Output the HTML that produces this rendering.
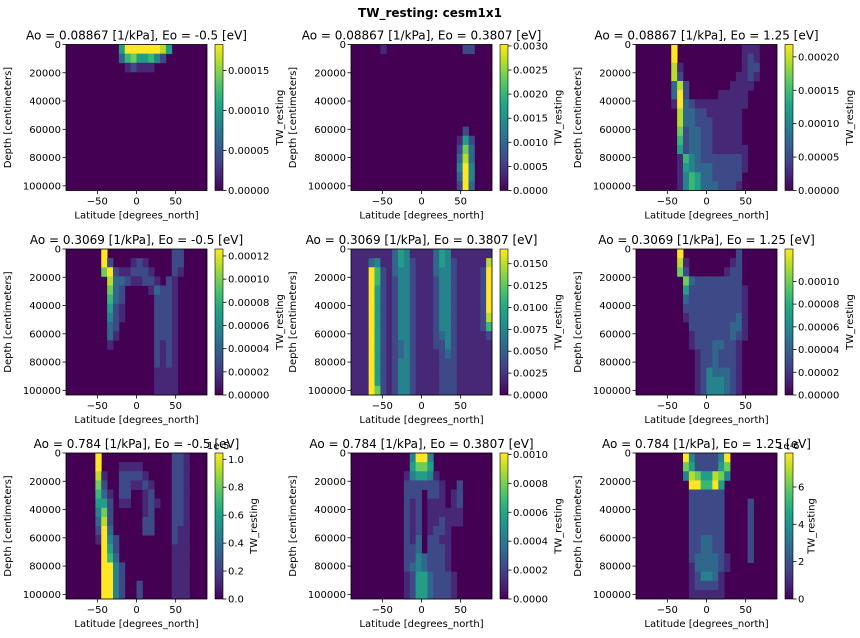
<!DOCTYPE html>
<html><head><meta charset="utf-8">
<style>
html,body{margin:0;padding:0;background:#fff;}
svg{display:block;font-family:"DejaVu Sans","Liberation Sans",sans-serif;}
</style></head>
<body>
<svg id="fig" width="860" height="638" viewBox="0 0 860 638">
<defs>
<linearGradient id="vir" x1="0" y1="1" x2="0" y2="0">
<stop offset="0" stop-color="#440154"/><stop offset="0.1" stop-color="#482475"/><stop offset="0.2" stop-color="#414487"/><stop offset="0.3" stop-color="#355f8d"/><stop offset="0.4" stop-color="#2a788e"/><stop offset="0.5" stop-color="#21918c"/><stop offset="0.6" stop-color="#22a884"/><stop offset="0.7" stop-color="#44bf70"/><stop offset="0.8" stop-color="#7ad151"/><stop offset="0.9" stop-color="#bddf26"/><stop offset="1" stop-color="#fde725"/>
</linearGradient>
</defs>
<text x="430" y="17" text-anchor="middle" font-size="12" font-weight="bold">TW_resting: cesm1x1</text>
</svg>
<script>
const latMin = -90, latMax = 90, depthMax = 103300;
const latBins = 24, depthBins = 16;
const xTicks = [-50, 0, 50];
const yTicks = [0, 20000, 40000, 60000, 80000, 100000];
const titles = [
 "Ao = 0.08867 [1/kPa], Eo = -0.5 [eV]","Ao = 0.08867 [1/kPa], Eo = 0.3807 [eV]","Ao = 0.08867 [1/kPa], Eo = 1.25 [eV]",
 "Ao = 0.3069 [1/kPa], Eo = -0.5 [eV]","Ao = 0.3069 [1/kPa], Eo = 0.3807 [eV]","Ao = 0.3069 [1/kPa], Eo = 1.25 [eV]",
 "Ao = 0.784 [1/kPa], Eo = -0.5 [eV]","Ao = 0.784 [1/kPa], Eo = 0.3807 [eV]","Ao = 0.784 [1/kPa], Eo = 1.25 [eV]"];
const cbMax = [0.0001825,0.00303,0.0002185,0.000126,0.01668,0.0001285,1.045,0.00101,7.82];
const cbTicks = [
 [0,0.00005,0.0001,0.00015],[0,0.0005,0.001,0.0015,0.002,0.0025,0.003],[0,0.00005,0.0001,0.00015,0.0002],
 [0,0.00002,0.00004,0.00006,0.00008,0.0001,0.00012],[0,0.0025,0.005,0.0075,0.01,0.0125,0.015],[0,0.00002,0.00004,0.00006,0.00008,0.0001],
 [0,0.2,0.4,0.6,0.8,1.0],[0,0.0002,0.0004,0.0006,0.0008,0.001],[0,2,4,6]];
const cbTickLabels = [
 ["0.00000","0.00005","0.00010","0.00015"],["0.0000","0.0005","0.0010","0.0015","0.0020","0.0025","0.0030"],["0.00000","0.00005","0.00010","0.00015","0.00020"],
 ["0.00000","0.00002","0.00004","0.00006","0.00008","0.00010","0.00012"],["0.0000","0.0025","0.0050","0.0075","0.0100","0.0125","0.0150"],["0.00000","0.00002","0.00004","0.00006","0.00008","0.00010"],
 ["0.0","0.2","0.4","0.6","0.8","1.0"],["0.0000","0.0002","0.0004","0.0006","0.0008","0.0010"],["0","2","4","6"]];
const cbOffset = ["","","","","","","1e-5","","1e-6"];
const field1 = ["000000000599999985000000","000000000367556420000000","000000000012111000000000"];
const field2 = ["000001000000000000022000","","","","","","","","","000000000000000000020000","000000000000000000152000","000000000000000000273000","000000000000000000383000","000000000000000000494000","000000000000000000394000","000000000000000000293000"];
const field3 = ["000000900000000000111000","000000900000000000121000","000000810000000000122000","000000820000000001121000","000000382000000011110000","000000392000001111100000","000000193211111111100000","000000083322111111000000","000000083322211111000000","000000072332211111000000","000000062332211111000000","000000052332211111100000","000000016432222222100000","000000015433322222100000","000000014653322222000000","000000014653332221000000"];
const field4 = ["000000900000000000220000","000000920001210000220000","000000792112221000210000","000000083321122102100000","000000073200001322100000","000000063200000222100000","000000052100000222100000","000000042100000222100000","000000032000000222100000","000000031000000222100000","000000010000000212100000","000000000000000212100000","000000000000000212100000","000000000000000111100000","000000000000000111100000","000000000000000111100000"];
const field5 = ["111111135411113541111111","111341135421113542111118","111962134421113442111129","111962124421112442111129","111952124421112442111129","111952124421112442111129","111952124421112442111129","111952124421112442111128","111952124421112442111126","111952124421112342111112","111952123421112242111111","111952123421111232111111","111952124421111222111111","111952124421111222111111","111952124421111222111111","111972124421111222111111"];
const field6 = ["000000090000000002000000","000000081000000012000000","000000072000000122000000","000000007322222222000000","000000005222222222100000","000000003222222222100000","000000002222222222100000","000000001222222223100000","000000000222222233100000","000000000122222232100000","000000000122233221000000","000000000012232221000000","000000000012232221000000","000000000012433321000000","000000000012444321000000","000000000012444321000000"];
const field7 = ["000009000000000000221000","000009000111100000221000","000008100222210000221000","000007200221121000221000","000006310220012000221000","000005520110012100221000","000004720000012000221000","000003820000022000221000","000002930000022000211000","000001942000000000211000","000000952000000000111000","000000963000000000111000","000000994200000000111000","000000994200000000111000","000000994200200000111000","000000994200200000111000"];
const field8 = ["000000000049940000000000","000000000057750000000000","000000000145541000000000","000000000222222100200000","000000000222022101200000","000000000212011101200000","000000000212011111100000","000000000212011211100000","000000000212012210000000","000000000213022110000000","000000000223022210000000","000000000224322210000000","000000000234322210000000","000000000125532221000000","000000000125532221000000","000000000125532221000000"];
const field9 = ["000000009422224900000000","000000007522225700000000","000000004875587400000000","000000000996695000000000","000000000222222000000000","000000000222222000020000","000000000222222000020000","000000000222222000020000","000000000222222000020000","000000000223322000020000","000000000223322000020000","000000000233332100020000","000000000133332100000000","000000000124431000000000","000000000122221000000000","000000000111111000000000"];
const fields = [field1,field2,field3,field4,field5,field6,field7,field8,field9];

const NS = "http://www.w3.org/2000/svg";
const fig = document.getElementById('fig');
const colLeft = [66, 351, 636], rowTop = [44.5, 249, 453], PW = 141, PH = 146;
const stops = [[68,1,84],[72,36,117],[65,68,135],[53,95,141],[42,120,142],[33,145,140],[34,168,132],[68,191,112],[122,209,81],[189,223,38],[253,231,37]];
function viridis(t){t=Math.max(0,Math.min(1,t));const f=t*10,i=Math.min(9,Math.floor(f)),u=f-i;const a=stops[i],b=stops[i+1];
 return `rgb(${Math.round(a[0]+(b[0]-a[0])*u)},${Math.round(a[1]+(b[1]-a[1])*u)},${Math.round(a[2]+(b[2]-a[2])*u)})`;}
function mk(tag, attrs, parent){const e=document.createElementNS(NS,tag);for(const k in attrs)e.setAttribute(k,attrs[k]);(parent||fig).appendChild(e);return e;}
function txt(x,y,s,attrs,parent){const e=mk('text',Object.assign({x:x,y:y,'font-size':10},attrs||{}),parent);e.textContent=s;return e;}

for(let p=0;p<9;p++){
 const L=colLeft[p%3], T=rowTop[Math.floor(p/3)];
 const xs = v => L + (v-latMin)/(latMax-latMin)*PW;
 const ys = v => T + v/depthMax*PH;
 const g = mk('g',{});
 
 
 const bg = mk('rect',{x:L,y:T,width:PW,height:PH,fill:viridis(0)},g);
 
 
 const f = fields[p];
 for(let r=0;r<depthBins;r++){
  const row=(f[r]||"").padEnd(latBins,'0');
  for(let c=0;c<latBins;c++){
   const v=parseInt(row[c],10)||0; if(!v) continue;
   const la0=latMin+c*(latMax-latMin)/latBins, la1=la0+(latMax-latMin)/latBins;
   const d0=r*depthMax/depthBins, d1=d0+depthMax/depthBins;
   const cell=mk('rect',{x:xs(la0).toFixed(2),y:ys(d0).toFixed(2),width:(xs(la1)-xs(la0)+0.4).toFixed(2),height:(ys(d1)-ys(d0)+0.4).toFixed(2),fill:viridis(v/9)},g);
   
   
  }
 }
 // x ticks
 xTicks.forEach(t=>{const x=xs(t);mk('line',{x1:x,y1:T+PH,x2:x,y2:T+PH+3.5,stroke:'#000','stroke-width':0.8},g);
  const l=txt(x,T+PH+14,t<0?'\u2212'+(-t):String(t),{'text-anchor':'middle'},g);
  
  });
 yTicks.forEach(t=>{const y=ys(t);mk('line',{x1:L-3.5,y1:y,x2:L,y2:y,stroke:'#000','stroke-width':0.8},g);
  const l=txt(L-5,y+3.5,String(t),{'text-anchor':'end'},g);
  
  });
 const xl=txt(L+PW/2,T+PH+28,'Latitude [degrees_north]',{'text-anchor':'middle'},g);
 
 
 const yl=txt(0,0,'Depth [centimeters]',{'text-anchor':'middle',transform:`translate(${L-55},${T+PH/2}) rotate(-90)`},g);
 
 
 const tl=txt(L+PW/2,T-5,titles[p],{'text-anchor':'middle','font-size':12},g);
 
 
 // colorbar
 const CX=L+149, CW=8;
 const cb=mk('rect',{x:CX,y:T,width:CW,height:PH,fill:'url(#vir)',stroke:'#000','stroke-width':0.6},g);
 
 
 cbTicks[p].forEach((t,i)=>{const y=T+PH-t/cbMax[p]*PH;
  mk('line',{x1:CX+CW,y1:y,x2:CX+CW+3.5,y2:y,stroke:'#000','stroke-width':0.8},g);
  const l=txt(CX+CW+5,y+3.5,cbTickLabels[p][i],{},g);
  
  });
 const lblX = CX + CW + 5 + cbTickLabels[p][cbTickLabels[p].length-1].length*6.4 + 10;
 const cl=txt(0,0,'TW_resting',{'text-anchor':'middle',transform:`translate(${lblX},${T+PH/2}) rotate(-90)`},g);
 
 
 if(cbOffset[p]){const o=txt(CX-8,T-4,cbOffset[p],{},g);
  
  }
 mk('rect',{x:L,y:T,width:PW,height:PH,fill:'none',stroke:'#000','stroke-width':0.8},g);
}
</script>
</body></html>
